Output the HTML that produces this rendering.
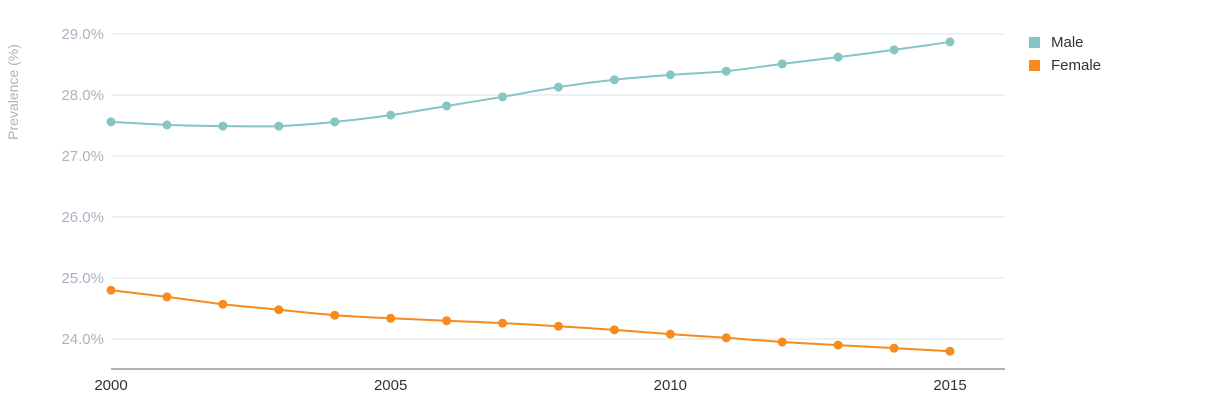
<!DOCTYPE html>
<html><head><meta charset="utf-8"><style>
html,body{margin:0;padding:0;background:#fff;width:1230px;height:402px;overflow:hidden;font-family:"Liberation Sans",sans-serif}
</style></head><body>
<svg id="chart" width="1230" height="402" xmlns="http://www.w3.org/2000/svg">
<text transform="translate(18,92) rotate(-90)" text-anchor="middle" font-size="14" fill="#a9b3c0">Prevalence (%)</text>
<g id="grid"></g><g id="series"></g>
<g>
<rect x="1029" y="37" width="11" height="11" fill="#86c5c4"/>
<text x="1051" y="47" font-size="15" fill="#333">Male</text>
<rect x="1029" y="60" width="11" height="11" fill="#f68b1f"/>
<text x="1051" y="70" font-size="15" fill="#333">Female</text>
</g>
</svg>
<script>
const years=[2000,2001,2002,2003,2004,2005,2006,2007,2008,2009,2010,2011,2012,2013,2014,2015];
const male=[27.56,27.51,27.49,27.49,27.56,27.67,27.82,27.97,28.13,28.25,28.33,28.39,28.51,28.62,28.74,28.87];
const female=[24.80,24.69,24.57,24.48,24.39,24.34,24.30,24.26,24.21,24.15,24.08,24.02,23.95,23.90,23.85,23.80];
const yTicks=[24,25,26,27,28,29];
const xTicks=[2000,2005,2010,2015];
const NS="http://www.w3.org/2000/svg";
const xs=y=>111+(y-2000)*(839/15);
const ys=v=>34+(29-v)*61;
const grid=document.getElementById('grid'),ser=document.getElementById('series');
function mk(tag,attrs,parent){const e=document.createElementNS(NS,tag);for(const k in attrs)e.setAttribute(k,attrs[k]);parent.appendChild(e);return e;}
yTicks.forEach(t=>{
 const l=mk('line',{x1:111,x2:1005,y1:ys(t),y2:ys(t),stroke:'#dde3ea','stroke-width':1},grid);
 
 
 const tx=mk('text',{x:104,y:ys(t)+5,'text-anchor':'end','font-size':15,fill:'#a9b3c0'},grid);
 tx.textContent=t.toFixed(1)+'%';
 
 
});
const ax=mk('line',{x1:111,x2:1005,y1:369,y2:369,stroke:'#5a6472','stroke-width':1},grid);


xTicks.forEach(t=>{
 const tx=mk('text',{x:xs(t),y:390,'text-anchor':'middle','font-size':15,fill:'#333'},grid);
 tx.textContent=t;
 
 
});
function smooth(pts){
 let d='M'+pts[0][0]+','+pts[0][1];
 for(let i=0;i<pts.length-1;i++){
  const p0=pts[Math.max(0,i-1)],p1=pts[i],p2=pts[i+1],p3=pts[Math.min(pts.length-1,i+2)];
  const k=1/6*0.8;
  const c1x=p1[0]+(p2[0]-p0[0])*k,c1y=p1[1]+(p2[1]-p0[1])*k;
  const c2x=p2[0]-(p3[0]-p1[0])*k,c2y=p2[1]-(p3[1]-p1[1])*k;
  d+='C'+c1x+','+c1y+' '+c2x+','+c2y+' '+p2[0]+','+p2[1];
 }
 return d;
}
function draw(vals,color,name){
 const pts=vals.map((v,i)=>[xs(years[i]),ys(v)]);
 const p=mk('path',{d:smooth(pts),fill:'none',stroke:color,'stroke-width':2},ser);
 
 
 vals.forEach((v,i)=>{
  const c=mk('circle',{cx:xs(years[i]),cy:ys(v),r:4.5,fill:color},ser);
  
  
 });
}
draw(male,'#86c5c4','male');
draw(female,'#f68b1f','female');
</script>
</body></html>
